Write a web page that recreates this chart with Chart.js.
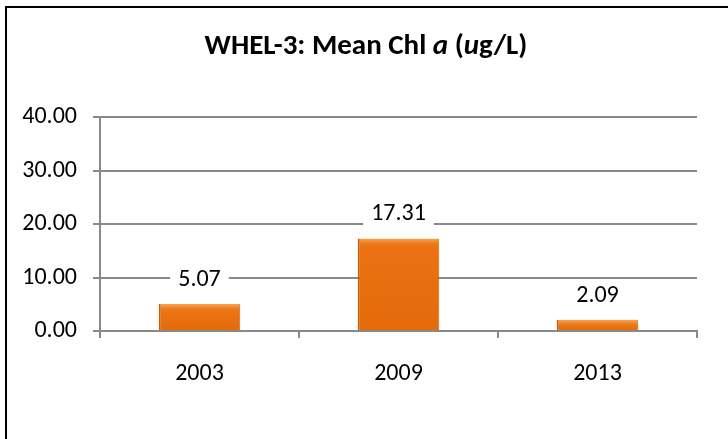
<!DOCTYPE html>
<html>
<head>
<meta charset="utf-8">
<script src="https://cdn.jsdelivr.net/npm/chart.js@4"></script>
<style>
    html, body { margin: 0; padding: 0; background: #fff; }
    #wrap { position: relative; width: 728px; height: 439px; overflow: hidden; }
    #frame { position: absolute; left: 5px; top: 6px; width: 800px; height: 500px; border-left: 2px solid #000; border-top: 2px solid #000; }
    canvas { position: absolute; left: 0; top: 0; }
</style>
</head>
<body>
<div id="wrap">
    <canvas id="chlChart" width="728" height="439"></canvas>
    <div id="frame"></div>
</div>
<script>
    // 데이터
    const years = ['2003', '2009', '2013'];
    const meanChl = [5.07, 17.31, 2.09];
    const yTicks = [0, 10, 20, 30, 40];

    const fontFamily = "Carlito, Lato, 'Liberation Sans', sans-serif";
    const gridGray = '#898989';

    // 막대 그라데이션 (윗부분 밝은 베벨)
    function barFill(context) {
        const chart = context.chart;
        if (!chart.chartArea || context.dataIndex === undefined) return '#EA7210';
        const y = chart.scales.y;
        const top = y.getPixelForValue(meanChl[context.dataIndex]);
        const base = y.getPixelForValue(0);
        const h = Math.max(base - top, 1);
        const g = chart.ctx.createLinearGradient(0, top, 0, base);
        g.addColorStop(0, '#F9A45C');
        g.addColorStop(Math.min(5 / h, 0.4), '#EE7B1A');
        g.addColorStop(Math.min(9 / h, 0.6), '#EA7210');
        g.addColorStop(1, '#E56B0A');
        return g;
    }

    // 제목 (이탤릭 부분 포함)
    const titlePlugin = {
        id: 'richTitle',
        afterDraw(chart) {
            const ctx = chart.ctx;
            const parts = [
                { t: 'WHEL-3: Mean Chl ', it: false },
                { t: 'a', it: true },
                { t: ' (', it: false },
                { t: 'u', it: true },
                { t: 'g/L)', it: false }
            ];
            ctx.save();
            ctx.fillStyle = '#000';
            ctx.textBaseline = 'middle';
            ctx.textAlign = 'left';
            let total = 0;
            parts.forEach(p => {
                ctx.font = (p.it ? 'italic ' : '') + 'bold 29px ' + fontFamily;
                p.w = ctx.measureText(p.t).width;
                total += p.w;
            });
            let x = 366 - total / 2;
            parts.forEach(p => {
                ctx.font = (p.it ? 'italic ' : '') + 'bold 29px ' + fontFamily;
                ctx.fillText(p.t, x, 47);
                x += p.w;
            });
            ctx.restore();
        }
    };

    // 데이터 레이블 (흰 배경)
    const labelPlugin = {
        id: 'valueLabels',
        afterDatasetsDraw(chart) {
            const ctx = chart.ctx;
            const meta = chart.getDatasetMeta(0);
            ctx.save();
            ctx.font = '24px ' + fontFamily;
            ctx.textAlign = 'center';
            ctx.textBaseline = 'middle';
            meta.data.forEach((bar, i) => {
                const txt = meanChl[i].toFixed(2);
                const w = ctx.measureText(txt).width + 16;
                const cy = bar.y - 24;
                ctx.fillStyle = '#fff';
                ctx.fillRect(bar.x - w / 2, cy - 12, w, 24);
                ctx.fillStyle = '#000';
                ctx.fillText(txt, bar.x, cy);
            });
            ctx.restore();
        }
    };

    new Chart(document.getElementById('chlChart'), {
        type: 'bar',
        data: {
            labels: years,
            datasets: [{
                data: meanChl,
                backgroundColor: barFill,
                borderColor: '#C85E09',
                borderWidth: { left: 2, right: 1, top: 0, bottom: 0 },
                borderSkipped: false,
                categoryPercentage: 1,
                barPercentage: 0.41
            }]
        },
        options: {
            responsive: false,
            animation: false,
            layout: { padding: { top: 117, right: 31, left: 0, bottom: 0 } },
            plugins: {
                legend: { display: false },
                tooltip: { enabled: false }
            },
            scales: {
                x: {
                    afterFit(scale) { scale.height = 108; },
                    grid: {
                        drawOnChartArea: false,
                        drawTicks: true,
                        tickLength: 7,
                        color: gridGray,
                        lineWidth: 2
                    },
                    border: { color: gridGray, width: 2 },
                    ticks: {
                        color: '#000',
                        padding: 22,
                        font: { family: fontFamily, size: 24 }
                    }
                },
                y: {
                    min: 0,
                    max: 40,
                    afterFit(scale) { scale.width = 100; },
                    afterBuildTicks(scale) { scale.ticks = yTicks.map(v => ({ value: v })); },
                    grid: {
                        color: gridGray,
                        lineWidth: 2,
                        tickLength: 7
                    },
                    border: { color: gridGray, width: 2 },
                    ticks: {
                        color: '#000',
                        padding: 16,
                        font: { family: fontFamily, size: 24 },
                        callback: v => Number(v).toFixed(2)
                    }
                }
            }
        },
        plugins: [titlePlugin, labelPlugin]
    });
</script>
</body>
</html>
